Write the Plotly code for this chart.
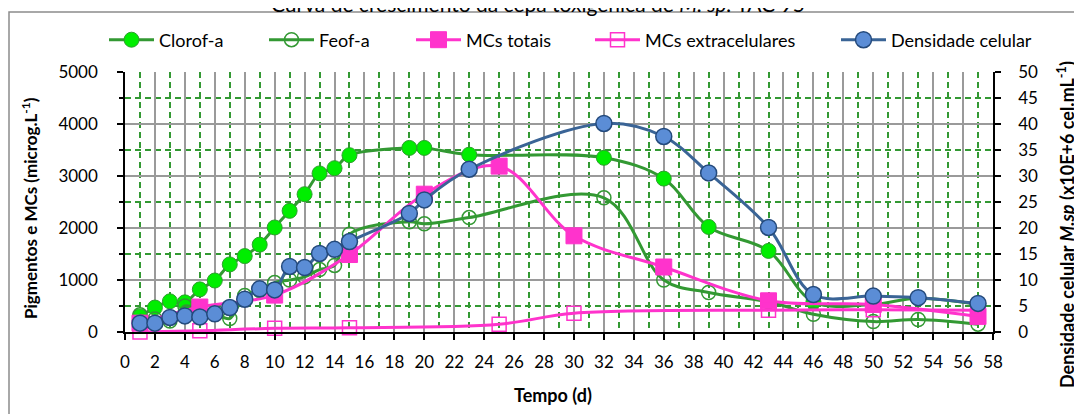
import plotly.graph_objects as go

# ---------------- data ----------------
days_pig = [1, 2, 3, 4, 5, 6, 7, 8, 9, 10, 11, 12, 13, 14, 15, 19, 20, 23, 32, 36, 39, 43, 46, 50, 53, 57]
clorof_a = [300, 470, 590, 570, 820, 990, 1300, 1460, 1680, 2010, 2330, 2650, 3050, 3150, 3400,
            3540, 3540, 3410, 3350, 2950, 2020, 1560, 580, 530, 650, 530]
feof_a = [330, 250, 210, 500, 420, 360, 260, 700, 800, 950, 1000, 1060, 1200, 1280, 1880,
          2120, 2080, 2200, 2580, 1000, 760, 580, 340, 200, 240, 150]
days_mc = [1, 5, 10, 15, 20, 25, 30, 36, 43, 50, 57]
mcs_totais = [170, 480, 710, 1490, 2650, 3190, 1850, 1250, 600, 530, 300]
days_mce = [1, 5, 10, 15, 25, 30, 43, 50, 57]
mcs_extra = [0, 25, 70, 80, 150, 360, 420, 430, 420]
days_dens = [1, 2, 3, 4, 5, 6, 7, 8, 9, 10, 11, 12, 13, 14, 15, 19, 20, 23, 32, 36, 39, 43, 46, 50, 53, 57]
densidade = [1.7, 1.7, 2.8, 3.1, 2.9, 3.5, 4.7, 6.3, 8.3, 8.1, 12.6, 12.4, 15.1, 15.9, 17.4,
             22.8, 25.4, 31.3, 40.1, 37.6, 30.6, 20.1, 7.2, 6.9, 6.6, 5.5]

x_ticks = list(range(0, 59, 2))
y_left_ticks = [0, 1000, 2000, 3000, 4000, 5000]
y_right_ticks = list(range(0, 51, 5))

names = ["Clorof-a", "Feof-a", "MCs totais", "MCs extracelulares", "Densidade celular"]
title_txt = "Curva de crescimento da cepa toxigênica de <i>M. sp.</i> TAC 95"

# ---------------- style ----------------
OFF = 8                       # page body margin
W, H = 1082 - OFF, 414 - OFF  # figure size
PL, PR, PT, PB = 125, 993, 72, 332   # plot area in page pixels
L, T = PL - OFF, PT - OFF
R, B = W - (PR - OFF), H - (PB - OFF)
PW, PH = PR - PL, PB - PT
FONT = "Lato"
GREEN_L = "#339933"
GREEN_F = "#00EE00"
PINK = "#FF33CC"
BLUE_L = "#3A6496"
BLUE_F = "#5B8DD6"
BLUE_E = "#244A7C"
GRID = "#9A9A9A"


def px_x(p):
    return (p - PL) / PW


def px_y(p):
    return (PB - p) / PH


fig = go.Figure()
common = dict(mode="lines+markers", line_shape="spline", cliponaxis=False)

fig.add_trace(go.Scatter(x=days_pig, y=clorof_a, name=names[0], legend="legend",
                         line=dict(color=GREEN_L, width=3),
                         marker=dict(symbol="circle", size=15, color=GREEN_F,
                                     line=dict(color="#2E9E2E", width=1)), **common))
fig.add_trace(go.Scatter(x=days_pig, y=feof_a, name=names[1], legend="legend2",
                         line=dict(color=GREEN_L, width=3),
                         marker=dict(symbol="circle-open", size=14, color=GREEN_L,
                                     line=dict(color=GREEN_L, width=1.5)), **common))
fig.add_trace(go.Scatter(x=days_mc, y=mcs_totais, name=names[2], legend="legend3",
                         line=dict(color=PINK, width=3),
                         marker=dict(symbol="square", size=16, color=PINK,
                                     line=dict(color=PINK, width=1)), **common))
fig.add_trace(go.Scatter(x=days_mce, y=mcs_extra, name=names[3], legend="legend4",
                         line=dict(color=PINK, width=3),
                         marker=dict(symbol="square-open", size=14, color=PINK,
                                     line=dict(color=PINK, width=1.5)), **common))
fig.add_trace(go.Scatter(x=days_dens, y=densidade, name=names[4], legend="legend5", yaxis="y2",
                         line=dict(color=BLUE_L, width=3),
                         marker=dict(symbol="circle", size=16, color=BLUE_F,
                                     line=dict(color=BLUE_E, width=1.5)), **common))

tick_font = dict(family=FONT, size=17, color="#000000")
leg_font = dict(family=FONT, size=18, color="#000000")

layout = dict(
    width=W, height=H,
    margin=dict(l=L, r=R, t=T, b=B, autoexpand=False),
    paper_bgcolor="white", plot_bgcolor="white",
    font=dict(family=FONT),
    showlegend=True,
    xaxis=dict(range=[0, 58], tickmode="array", tickvals=x_ticks, ticktext=[str(v) for v in x_ticks],
               showline=True, linecolor="black", linewidth=1.5, mirror=False,
               ticks="outside", ticklen=6, tickcolor="black", tickwidth=1.5,
               ticklabelstandoff=8,
               showgrid=True, gridcolor=GRID, gridwidth=1.6,
               minor=dict(dtick=2, tick0=1, showgrid=True, gridcolor=GREEN_L, gridwidth=1.5,
                          griddash="6px,4px", ticks=""),
               zeroline=False, tickfont=tick_font, fixedrange=True),
    yaxis=dict(range=[0, 5000], tickmode="array", tickvals=y_left_ticks,
               ticktext=[str(v) for v in y_left_ticks],
               showline=True, linecolor="black", linewidth=1.5,
               ticks="outside", ticklen=6, tickcolor="black", tickwidth=1.5,
               ticklabelstandoff=16,
               showgrid=True, gridcolor=GRID, gridwidth=1.6,
               minor=dict(dtick=1000, tick0=500, showgrid=True, gridcolor=GREEN_L, gridwidth=1.5,
                          griddash="6px,4px", ticks="outside", ticklen=4, tickcolor="black"),
               zeroline=False, tickfont=tick_font),
    yaxis2=dict(range=[0, 50], overlaying="y", side="right", tickmode="array",
                tickvals=y_right_ticks, ticktext=[str(v) for v in y_right_ticks],
                showline=True, linecolor="black", linewidth=1.5,
                ticks="outside", ticklen=6, tickcolor="black", tickwidth=1.5,
                ticklabelstandoff=14,
                showgrid=False, zeroline=False, tickfont=tick_font),
)

leg_x_px = [104, 264, 411, 590, 836]
for i, key in enumerate(["legend", "legend2", "legend3", "legend4", "legend5"]):
    layout[key] = dict(x=px_x(leg_x_px[i]), xanchor="left", y=px_y(40), yanchor="middle",
                       orientation="h", font=leg_font, itemwidth=45,
                       bgcolor="rgba(0,0,0,0)", borderwidth=0)

fig.update_layout(**layout)

ann_font = dict(family=FONT, size=17, color="black")
fig.add_annotation(text="<b>Pigmentos e MCs (microg.L<sup>-1</sup>)</b>", xref="paper", yref="paper",
                   x=px_x(30), y=px_y(208), textangle=-90, showarrow=False, font=ann_font,
                   xanchor="center", yanchor="middle")
fig.add_annotation(text="<b>Densidade celular <i>M.sp</i> (x10E+6 cel.mL<sup>-1</sup>)</b>",
                   xref="paper", yref="paper", x=px_x(1066), y=px_y(225), textangle=-90,
                   showarrow=False, font=dict(family=FONT, size=18, color="black"),
                   xanchor="center", yanchor="middle")
fig.add_annotation(text="<b>Tempo (d)</b>", xref="paper", yref="paper", x=px_x(553), y=px_y(395),
                   showarrow=False, font=dict(family=FONT, size=18, color="black"),
                   xanchor="center", yanchor="middle")
fig.add_annotation(text=title_txt, xref="paper", yref="paper", x=px_x(538), y=px_y(3),
                   showarrow=False, font=dict(family=FONT, size=21, color="black"),
                   xanchor="center", yanchor="middle")

# outer chart-area frame (left and top edges visible)
fig.add_shape(type="rect", xref="paper", yref="paper", x0=px_x(9), y0=px_y(440), x1=px_x(1110),
              y1=px_y(12), line=dict(color="#8C8C8C", width=1.5), fillcolor="rgba(0,0,0,0)",
              layer="below")

fig.write_html("out.html")
